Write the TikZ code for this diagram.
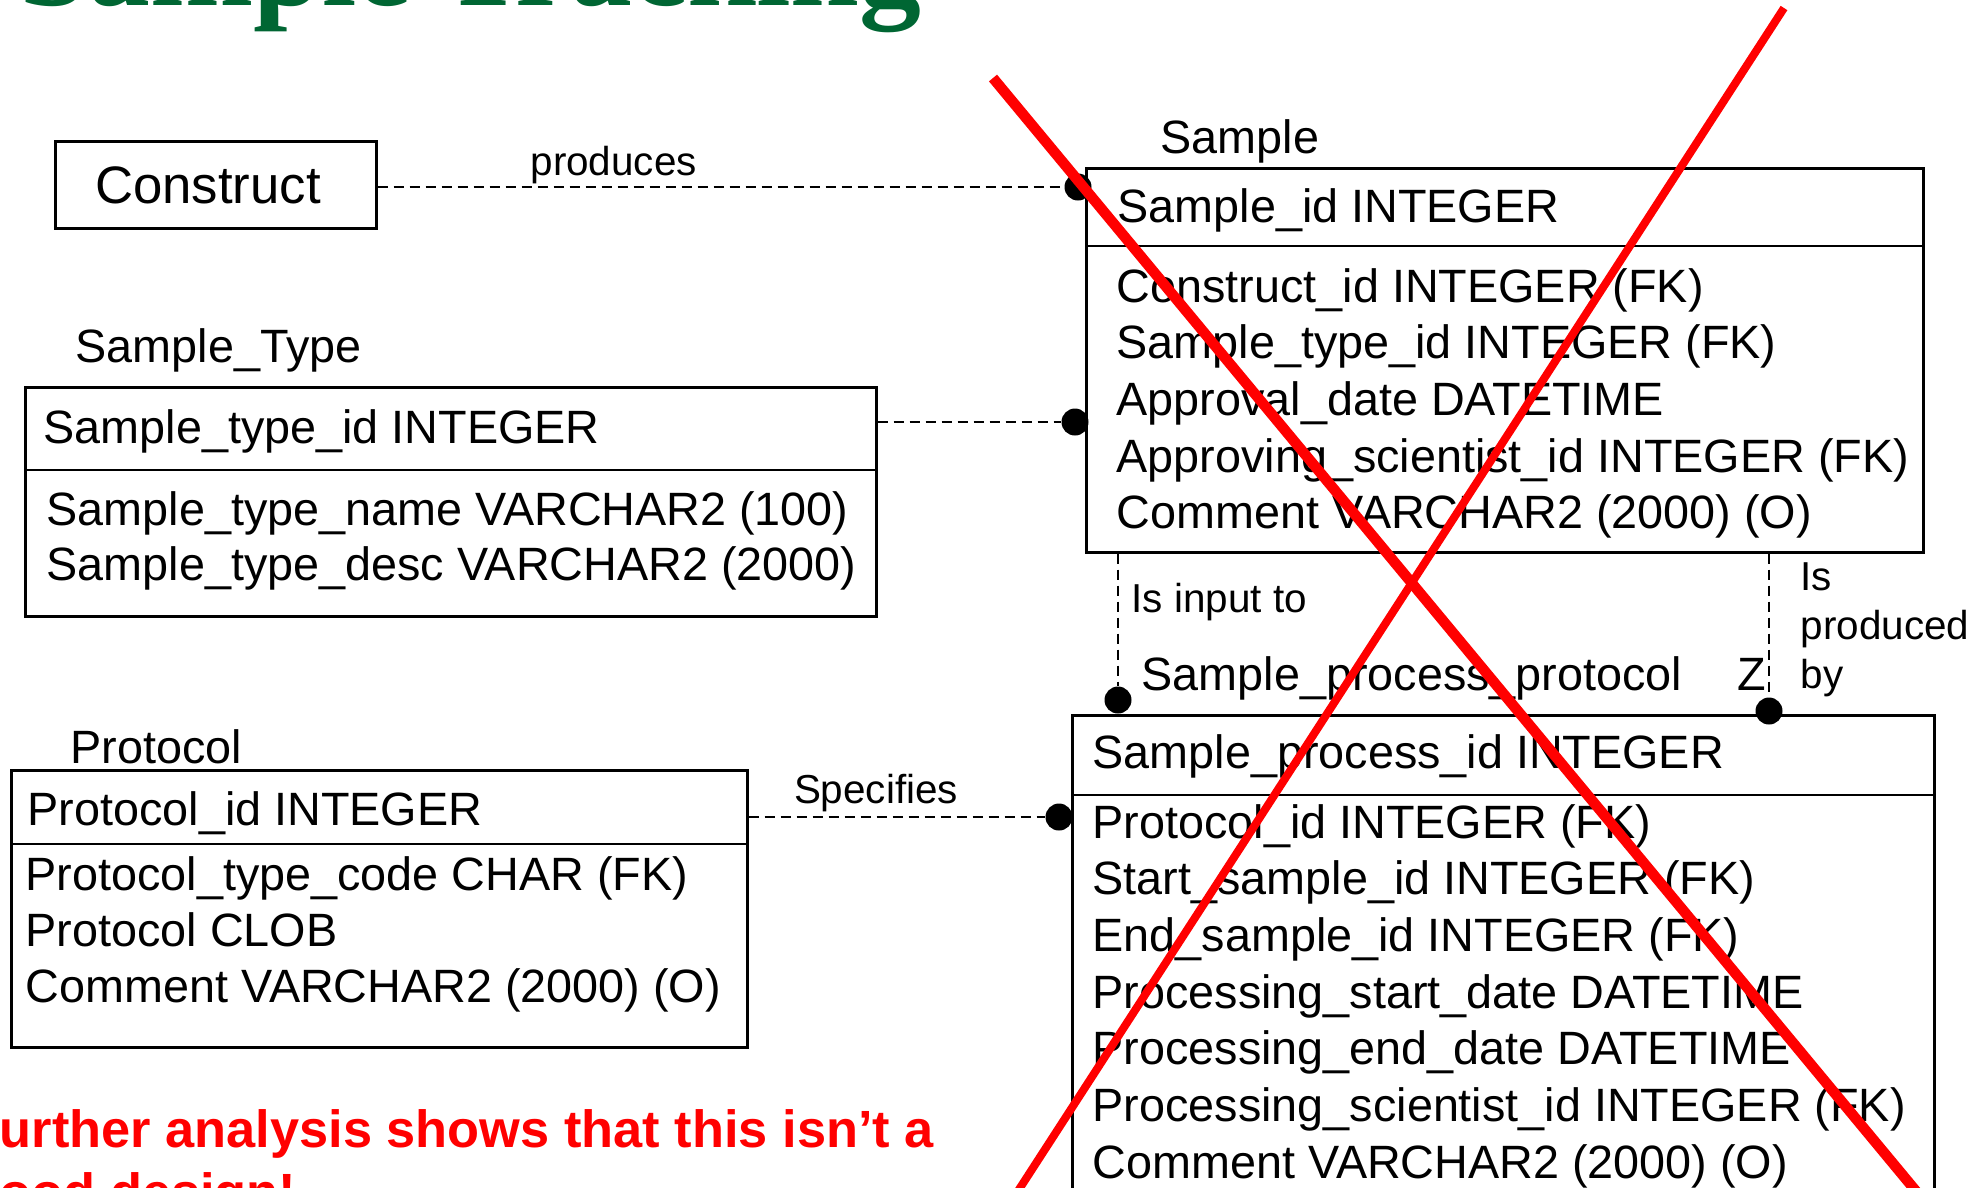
\documentclass[tikz,border=0pt]{standalone}
\usepackage{fontspec}
\setmainfont{Liberation Sans}
\newfontfamily\titlefont{Liberation Serif}
\usepackage{tikz}
\usetikzlibrary{positioning}
\definecolor{titlegreen}{RGB}{0,102,51}
\newcommand{\fieldfont}{\fontsize{13.3}{16}\selectfont}
\newcommand{\labelfont}{\fontsize{11.5}{14}\selectfont}
\tikzstyle{table} = [rectangle, draw, line width=0.27mm, anchor=north west, inner sep=0pt]
\tikzstyle{divider} = [draw, line width=0.27mm]
\tikzstyle{attr} = [anchor=base west, inner sep=0pt, font=\fieldfont]
\tikzstyle{lbl} = [anchor=base west, inner sep=0pt, font=\labelfont]
\tikzstyle{dot} = [circle, fill=black, inner sep=0pt, minimum size=2.7mm]
\tikzstyle{rel} = [draw, line width=0.24mm, dash pattern=on 1mm off 0.6mm]
\tikzstyle{cross} = [draw, red]

\begin{document}
\begin{tikzpicture}[x=0.1mm, y=-0.1mm]
  \useasboundingbox (0,0) rectangle (1980,1187);
  \clip (0,0) rectangle (1980,1187);
  % Title and note
  \node [anchor=base west, inner sep=0pt, text=titlegreen,
         font={\titlefont\bfseries\fontsize{35.2}{40}\selectfont}] (title) at (19,5) {Sample Tracking};
  \node [anchor=base west, inner sep=0pt, text=red,
         font={\bfseries\fontsize{14.9}{18}\selectfont}] (note1) at (-33,1147) {Further analysis shows that this isn’t a};
  \node [anchor=base west, inner sep=0pt, text=red,
         font={\bfseries\fontsize{14.9}{18}\selectfont}] (note2) at (-33,1210) {good design!};
  % Place tables
  \node [table, minimum width=32.1mm, minimum height=8.7mm] (construct) at (54,140) {};
  \node [anchor=base, inner sep=0pt, font={\fontsize{15}{18}\selectfont}] (constructname) at (208,203) {Construct};
  \node [table, minimum width=83.7mm, minimum height=38.4mm] (sample) at (1085,167) {};
  \node [table, minimum width=85.1mm, minimum height=22.9mm] (stype) at (24,386) {};
  \node [table, minimum width=73.6mm, minimum height=27.7mm] (protocol) at (10,769) {};
  \node [table, minimum width=86.2mm, minimum height=50mm] (spp) at (1071,714) {};
  \path [divider] (sample.west |- 0,246) -- (sample.east |- 0,246);
  \path [divider] (stype.west |- 0,470) -- (stype.east |- 0,470);
  \path [divider] (protocol.west |- 0,844) -- (protocol.east |- 0,844);
  \path [divider] (spp.west |- 0,795) -- (spp.east |- 0,795);
  % Table names
  \node [attr] (samplename) at (1160,153) {Sample};
  \node [attr] (stypename) at (75,362) {Sample\_Type};
  \node [attr] (protocolname) at (70,763) {Protocol};
  \node [attr] (sppname) at (1141,690) {Sample\_process\_protocol};
  % Fields
  \node [attr] (sid) at (1117,222) {Sample\_id INTEGER};
  \foreach \f [count=\i from 0] in {Construct\_id INTEGER (FK), Sample\_type\_id INTEGER (FK),
      Approval\_date DATETIME, Approving\_scientist\_id INTEGER (FK), Comment VARCHAR2 (2000) (O)}
    \node [attr] (sf\i) at (1116,{302+56.7*\i}) {\f};
  \node [attr] (stid) at (43,443) {Sample\_type\_id INTEGER};
  \foreach \f [count=\i from 0] in {Sample\_type\_name VARCHAR2 (100), Sample\_type\_desc VARCHAR2 (2000)}
    \node [attr] (stf\i) at (46,{525+55*\i}) {\f};
  \node [attr] (pid) at (27,825) {Protocol\_id INTEGER};
  \foreach \f [count=\i from 0] in {Protocol\_type\_code CHAR (FK), Protocol CLOB, Comment VARCHAR2 (2000) (O)}
    \node [attr] (pf\i) at (25,{890+56*\i}) {\f};
  \node [attr] (sppid) at (1092,768) {Sample\_process\_id INTEGER};
  \foreach \f [count=\i from 0] in {Protocol\_id INTEGER (FK), Start\_sample\_id INTEGER (FK),
      End\_sample\_id INTEGER (FK), Processing\_start\_date DATETIME, Processing\_end\_date DATETIME,
      Processing\_scientist\_id INTEGER (FK), Comment VARCHAR2 (2000) (O)}
    \node [attr] (sppf\i) at (1092,{838+56.7*\i}) {\f};
  % Draw edges
  \node [dot] (d1) at (1078,187) {};
  \node [dot] (d2) at (1075,422) {};
  \node [dot] (d3) at (1059,817) {};
  \node [dot] (d4) at (1118,700) {};
  \node [dot] (d5) at (1769,711) {};
  \path [rel] (construct.east |- d1) -- node [pos=0.344, anchor=base, yshift=1.2mm, inner sep=0pt, font=\labelfont] (produces) {produces} (d1);
  \path [rel] (stype.east |- d2) -- (d2);
  \path [rel] (protocol.east |- d3) -- node [pos=0.43, anchor=base, yshift=1.4mm, inner sep=0pt, font=\labelfont] (specifies) {Specifies} (d3);
  \path [rel] (sample.south -| d4) -- (d4);
  \path [rel] (sample.south -| d5) -- (d5);
  \node [lbl] (isinput) at (1131,612) {Is input to};
  \node [attr] (zmark) at (1737,690) {Z};
  \node [lbl] (isprod1) at (1800,590) {Is};
  \node [lbl] (isprod2) at (1800,639) {produced};
  \node [lbl] (isprod3) at (1800,688) {by};
  % Cross out
  \coordinate (xa) at (993,78);
  \coordinate (xb) at (1930,1208);
  \coordinate (xc) at (1784,8);
  \coordinate (xd) at (1007,1208);
  \path [cross, line width=1.05mm] (xa) -- (xb);
  \path [cross, line width=0.8mm] (xc) -- (xd);
\end{tikzpicture}
\end{document}
